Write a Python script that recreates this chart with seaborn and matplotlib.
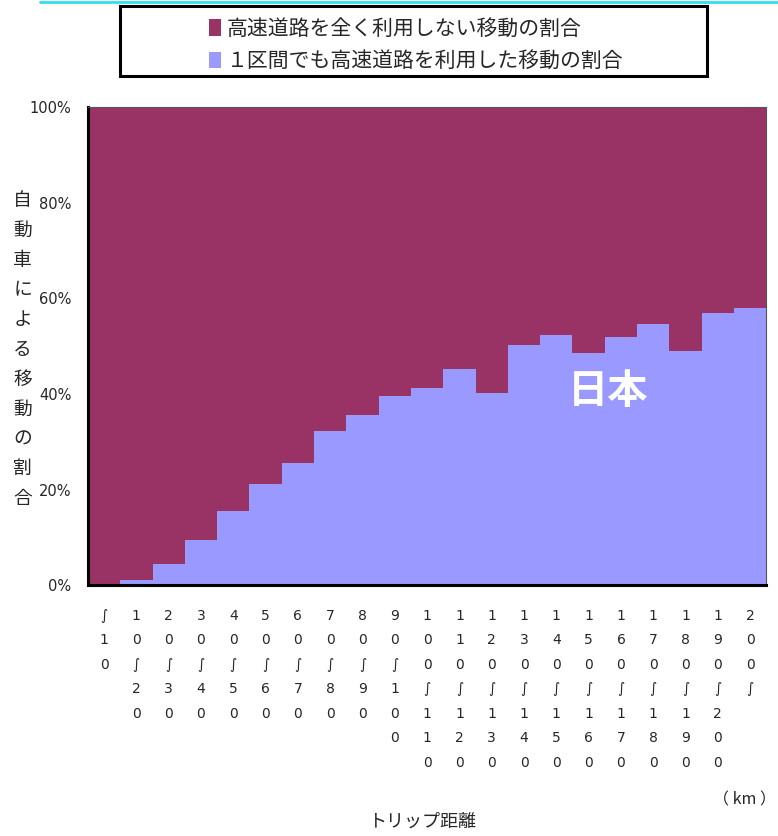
import numpy as np
import pandas as pd
import matplotlib
matplotlib.use("Agg")
import matplotlib.pyplot as plt
from matplotlib.patches import Patch, Rectangle
from matplotlib.lines import Line2D
import seaborn as sns

# トリップ距離の区分（縦書きラベル用）
distance_bins = ["〜10", "10〜20", "20〜30", "30〜40", "40〜50", "50〜60", "60〜70",
                 "70〜80", "80〜90", "90〜100", "100〜110", "110〜120", "120〜130",
                 "130〜140", "140〜150", "150〜160", "160〜170", "170〜180",
                 "180〜190", "190〜200", "200〜"]
# 1区間でも高速道路を利用した移動の割合 (%)
highway_share = [0.0, 1.0, 4.4, 9.4, 15.5, 21.1, 25.5, 32.2, 35.6, 39.5, 41.2,
                 45.2, 40.2, 50.2, 52.3, 48.5, 51.9, 54.6, 49.0, 56.9, 57.9]
total_share = [100.0] * len(distance_bins)
y_ticks = [0, 20, 40, 60, 80, 100]
y_tick_labels = ["0%", "20%", "40%", "60%", "80%", "100%"]

legend_labels = ["高速道路を全く利用しない移動の割合",
                 "１区間でも高速道路を利用した移動の割合"]
y_label = "自動車による移動の割合"
x_label = "トリップ距離"

c_none = "#993366"
c_hw = "#9999FF"

sns.set_style("white")
plt.rcParams['font.family'] = ['Noto Sans CJK JP', 'DejaVu Sans']

df = pd.DataFrame({"dist": distance_bins, "total": total_share, "hw": highway_share})

fig = plt.figure(figsize=(7.78, 8.36), dpi=100)
ax = fig.add_axes([0.113, 0.300, 0.872, 0.572])

sns.barplot(data=df, x="dist", y="total", color=c_none, width=1.0,
            saturation=1, linewidth=0, ax=ax)
sns.barplot(data=df, x="dist", y="hw", color=c_hw, width=1.0,
            saturation=1, linewidth=0, ax=ax)

n = len(distance_bins)
ax.set_xlim(-0.5, n - 0.5)
ax.set_ylim(0, 100)
ax.set_xlabel("")
ax.set_ylabel("")

# 縦書きのX軸ラベル（〜は縦向きの波線で表示）
def vertical(s):
    return "\n".join(s.replace("〜", "∫"))

ax.set_xticks(range(n))
ax.set_xticklabels([vertical(s) for s in distance_bins],
                   family=['Liberation Sans Narrow', 'DejaVu Sans'], fontsize=10)
for lbl in ax.get_xticklabels():
    lbl.set_linespacing(1.95)
    lbl.set_verticalalignment("top")
ax.tick_params(axis="x", which="major", length=0, pad=17)
ax.set_xticks(np.arange(-0.5, n, 1.0), minor=True)
ax.tick_params(axis="x", which="minor", direction="in", length=4, width=1.2, color="black")

ax.set_yticks(y_ticks)
ax.set_yticklabels(y_tick_labels, family=['Liberation Sans Narrow', 'DejaVu Sans'], fontsize=10.5)
ax.tick_params(axis="y", direction="in", length=4, width=1.2, color="black", pad=12)

for side in ["left", "bottom"]:
    ax.spines[side].set_color("black")
    ax.spines[side].set_linewidth(2.2)
for side in ["top", "right"]:
    ax.spines[side].set_color("#555555")
    ax.spines[side].set_linewidth(0.8)

ax.text(15.6, 40.5, "日本", color="white", fontsize=29, fontweight="bold",
        ha="center", va="center")

# 縦書きのY軸ラベル
fig.text(0.029, 0.582, "\n".join(y_label), fontsize=13.5, ha="center", va="center",
         linespacing=1.55)

fig.text(0.542, 0.017, x_label, fontsize=13, ha="center", va="center")
fig.text(0.957, 0.043, "（ km ）", fontsize=11.5, ha="center", va="center")

# 凡例
fig.patches.append(Rectangle((120 / 778, 1 - 76 / 836), 587 / 778, 70 / 836,
                             transform=fig.transFigure, fill=False,
                             edgecolor="black", linewidth=2.2))
handles = [Patch(facecolor=c_none, edgecolor="none"),
           Patch(facecolor=c_hw, edgecolor="none")]
fig.legend(handles, legend_labels, loc="center", bbox_to_anchor=(0.535, 1 - 45 / 836),
           frameon=False, fontsize=15, handlelength=0.55, handleheight=0.85,
           handletextpad=0.3, labelspacing=0.5)

# 上端の水色の線
fig.add_artist(Line2D([40 / 778, 1.0], [0.998, 0.998], transform=fig.transFigure,
                      color="#33DDF0", linewidth=2))

fig.savefig("out.png", dpi=100)
